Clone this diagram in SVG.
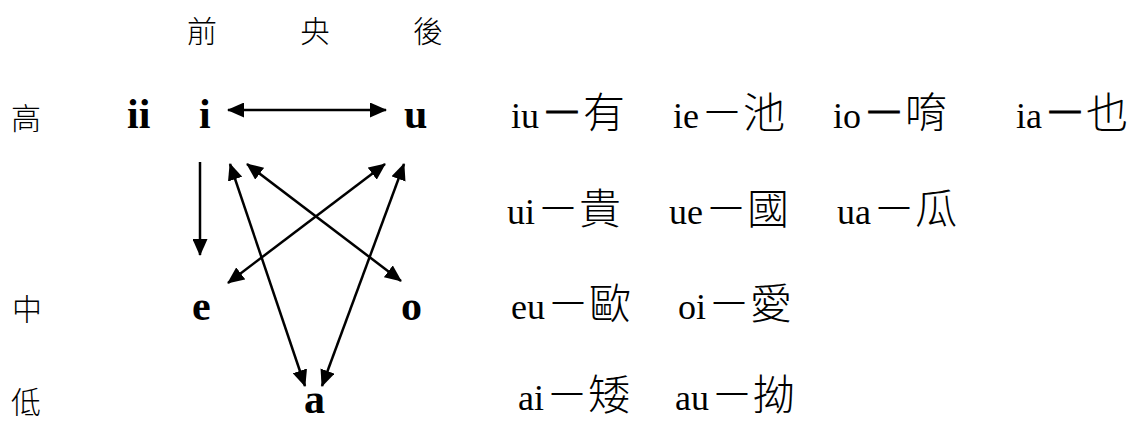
<svg xmlns="http://www.w3.org/2000/svg" width="1135" height="422" viewBox="0 0 1135 422">
<style>
.lab{font-family:"Noto Sans CJK TC","Noto Sans CJK SC",sans-serif;font-size:30px;fill:#000;font-weight:300}
.v{font-family:"Liberation Serif",serif;font-weight:bold;font-size:42px;fill:#000}
.row{font-family:"Liberation Serif",serif;font-size:36px;fill:#000}
.cjk{font-family:"Noto Sans CJK TC","Noto Sans CJK SC",sans-serif;font-size:42px;font-weight:300}
.thick{stroke:#000;stroke-width:0.8}
.arr{stroke:#000;stroke-width:2.5;fill:none;marker-start:url(#ah);marker-end:url(#ah)}
.one{stroke:#000;stroke-width:2.5;fill:none;marker-end:url(#ah)}
</style>
<defs>
<marker id="ah" markerUnits="userSpaceOnUse" markerWidth="17" markerHeight="15" refX="16" refY="7.5" orient="auto-start-reverse">
<path d="M0,0 L17,7.5 L0,15 z" fill="#000"/>
</marker>
</defs>
<g id="headers">
<text class="lab" x="187" y="42">前</text>
<text class="lab" x="300" y="42">央</text>
<text class="lab" x="413" y="42">後</text>
</g>
<g id="heights">
<text class="lab" x="11" y="129">高</text>
<text class="lab" x="12" y="320">中</text>
<text class="lab" x="11" y="413">低</text>
</g>
<g id="node-ii"><text class="v" x="127" y="128">ii</text></g>
<g id="node-i"><text class="v" x="199" y="128">i</text></g>
<g id="node-u"><text class="v" x="404" y="128">u</text></g>
<g id="node-e"><text class="v" x="192" y="320">e</text></g>
<g id="node-o"><text class="v" x="401" y="320">o</text></g>
<g id="node-a"><text class="v" x="304" y="413">a</text></g>
<g id="connectors">
<line class="arr" x1="228" y1="110" x2="386" y2="110"/>
<line class="one" x1="200" y1="162" x2="200" y2="255"/>
<line class="arr" x1="230" y1="164" x2="305" y2="386"/>
<line class="arr" x1="247" y1="164" x2="401" y2="281"/>
<line class="arr" x1="385" y1="164" x2="228" y2="283"/>
<line class="arr" x1="404" y1="164" x2="322" y2="386"/>
</g>
<g id="examples">
<text class="row" x="511" y="128">iu<tspan class="cjk" dx="2"><tspan class="thick">－</tspan>有</tspan></text>
<text class="row" x="673" y="128">ie<tspan class="cjk" dx="2">－池</tspan></text>
<text class="row" x="833" y="128">io<tspan class="cjk" dx="2"><tspan class="thick">－</tspan>唷</tspan></text>
<text class="row" x="1016" y="128">ia<tspan class="cjk" dx="2"><tspan class="thick">－</tspan>也</tspan></text>
<text class="row" x="507" y="224">ui<tspan class="cjk" dx="2">－貴</tspan></text>
<text class="row" x="669" y="224">ue<tspan class="cjk" dx="2">－國</tspan></text>
<text class="row" x="837" y="224">ua<tspan class="cjk" dx="2">－瓜</tspan></text>
<text class="row" x="511" y="319">eu<tspan class="cjk" dx="2">－歐</tspan></text>
<text class="row" x="678" y="319">oi<tspan class="cjk" dx="2">－愛</tspan></text>
<text class="row" x="518" y="410">ai<tspan class="cjk" dx="2">－矮</tspan></text>
<text class="row" x="675" y="410">au<tspan class="cjk" dx="2">－拗</tspan></text>
</g>
</svg>
